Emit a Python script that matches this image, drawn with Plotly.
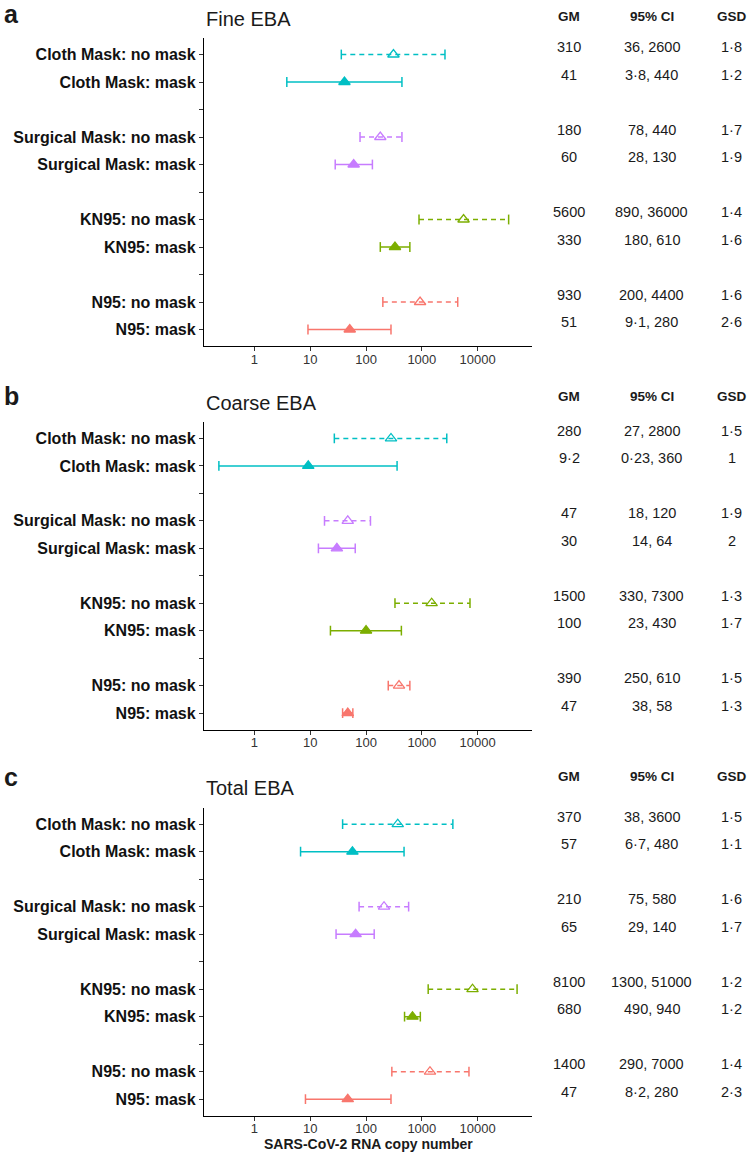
import plotly.graph_objects as go

# ---------------- data ----------------
categories = ["Cloth Mask: no mask", "Cloth Mask: mask", "",
              "Surgical Mask: no mask", "Surgical Mask: mask", " ",
              "KN95: no mask", "KN95: mask", "  ",
              "N95: no mask", "N95: mask"]
rows = ["Cloth Mask: no mask", "Cloth Mask: mask",
        "Surgical Mask: no mask", "Surgical Mask: mask",
        "KN95: no mask", "KN95: mask",
        "N95: no mask", "N95: mask"]
masked = [False, True, False, True, False, True, False, True]
groups = ["Cloth", "Cloth", "Surgical", "Surgical", "KN95", "KN95", "N95", "N95"]

panel_titles = ["Fine EBA", "Coarse EBA", "Total EBA"]
panel_letters = ["a", "b", "c"]

fine_gm = [310, 41, 180, 60, 5600, 330, 930, 51]
fine_lo = [36, 3.8, 78, 28, 890, 180, 200, 9.1]
fine_hi = [2600, 440, 440, 130, 36000, 610, 4400, 280]
fine_gsd = [1.8, 1.2, 1.7, 1.9, 1.4, 1.6, 1.6, 2.6]

coarse_gm = [280, 9.2, 47, 30, 1500, 100, 390, 47]
coarse_lo = [27, 0.23, 18, 14, 330, 23, 250, 38]
coarse_hi = [2800, 360, 120, 64, 7300, 430, 610, 58]
coarse_gsd = [1.5, 1, 1.9, 2, 1.3, 1.7, 1.5, 1.3]

total_gm = [370, 57, 210, 65, 8100, 680, 1400, 47]
total_lo = [38, 6.7, 75, 29, 1300, 490, 290, 8.2]
total_hi = [3600, 480, 580, 140, 51000, 940, 7000, 280]
total_gsd = [1.5, 1.1, 1.6, 1.7, 1.2, 1.2, 1.4, 2.3]

x_tickvals = [1, 10, 100, 1000, 10000]
x_ticktext = ["1", "10", "100", "1000", "10000"]
table_headers = ["GM", "95% CI", "GSD"]
x_title = "SARS-CoV-2 RNA copy number"

# ---------------- styling ----------------
colors = {"Cloth": "#00BFC4", "Surgical": "#C77CFF", "KN95": "#7CAE00", "N95": "#F8766D"}
FONT = "Liberation Sans, Arial, sans-serif"
W, H = 750, 1153
panels_px = [(38, 346), (422, 729.5), (807.7, 1115.7)]   # top, bottom of each plot area
title_px = [19, 403, 788]
header_px = [17, 396.7, 776.7]
letter_px = [14, 396, 777]
x_left, x_right = 204, 532
col_x = [569, 651.7, 731.7]


def fmt(v):
    return f"{v:g}".replace(".", "\u00b7")


data = [
    (fine_gm, fine_lo, fine_hi, fine_gsd),
    (coarse_gm, coarse_lo, coarse_hi, coarse_gsd),
    (total_gm, total_lo, total_hi, total_gsd),
]

fig = go.Figure()
annotations = []
pos = [categories.index(r) + 1 for r in rows]

for p, (gm, lo, hi, gsd) in enumerate(data):
    k = "" if p == 0 else str(p + 1)
    xa, ya = "x" + k, "y" + k
    for i in range(len(rows)):
        c = colors[groups[i]]
        dash = "solid" if masked[i] else "5px,4px"
        fig.add_trace(go.Scatter(
            x=[lo[i], hi[i]], y=[pos[i], pos[i]], mode="lines",
            line=dict(color=c, width=1.5, dash=dash),
            xaxis=xa, yaxis=ya, showlegend=False, hoverinfo="skip"))
        fig.add_trace(go.Scatter(
            x=[lo[i], hi[i]], y=[pos[i], pos[i]], mode="markers",
            marker=dict(symbol="line-ns", size=7, color=c, line=dict(color=c, width=1.5)),
            xaxis=xa, yaxis=ya, showlegend=False, hoverinfo="skip"))
        fig.add_trace(go.Scatter(
            x=[gm[i]], y=[pos[i]], mode="markers",
            marker=dict(symbol="triangle-up" if masked[i] else "triangle-up-open",
                        size=10, color=c, line=dict(color=c, width=1.3)),
            xaxis=xa, yaxis=ya, showlegend=False))
        # table text
        for j, txt in enumerate([fmt(gm[i]), f"{fmt(lo[i])}, {fmt(hi[i])}", fmt(gsd[i])]):
            annotations.append(dict(
                text=txt, xref="paper", x=col_x[j] / W, xanchor="center",
                yref=ya, y=pos[i], yanchor="middle", yshift=7.5, showarrow=False,
                font=dict(family=FONT, size=14.5, color="#1a1a1a")))
    # headers
    for j, h in enumerate(table_headers):
        annotations.append(dict(
            text=f"<b>{h}</b>", xref="paper", x=col_x[j] / W, xanchor="center",
            yref="paper", y=1 - header_px[p] / H, yanchor="middle", showarrow=False,
            font=dict(family=FONT, size=13.5, color="#1a1a1a")))
    # panel title
    annotations.append(dict(
        text=panel_titles[p], xref="paper", x=x_left / W, xanchor="left",
        yref="paper", y=1 - title_px[p] / H, yanchor="middle", showarrow=False,
        font=dict(family=FONT, size=20, color="#1a1a1a")))
    # panel letter
    annotations.append(dict(
        text=f"<b>{panel_letters[p]}</b>", xref="paper", x=2 / W, xanchor="left",
        yref="paper", y=1 - letter_px[p] / H, yanchor="middle", showarrow=False,
        font=dict(family=FONT, size=25, color="#1a1a1a")))

    top, bot = panels_px[p]
    fig.update_layout(**{
        ("xaxis" + k): dict(
            type="log", range=[-0.905, 4.975], domain=[x_left / W, x_right / W],
            anchor=ya, tickvals=x_tickvals, ticktext=x_ticktext,
            showgrid=False, zeroline=False, showline=True, linecolor="black", linewidth=1.3,
            ticks="outside", ticklen=4, tickwidth=1.1, tickcolor="#333333",
            ticklabelstandoff=-3,
            tickfont=dict(family=FONT, size=13, color="#333333")),
        ("yaxis" + k): dict(
            range=[11.6, 0.4], domain=[1 - bot / H, 1 - top / H], anchor=xa,
            tickvals=list(range(1, len(categories) + 1)), ticktext=categories,
            showgrid=False, zeroline=False, showline=True, linecolor="black", linewidth=1.3,
            ticks="outside", ticklen=4, tickwidth=1.1, tickcolor="#333333",
            tickfont=dict(family=FONT, size=16, color="#111111", weight="bold")),
    })

annotations.append(dict(
    text=f"<b>{x_title}</b>", xref="x3 domain", x=0.5, xanchor="center",
    yref="paper", y=1 - 1144 / H, yanchor="middle", showarrow=False,
    font=dict(family=FONT, size=14, color="#1a1a1a")))

fig.update_layout(
    width=W, height=H, margin=dict(l=0, r=0, t=0, b=0),
    paper_bgcolor="white", plot_bgcolor="white",
    annotations=annotations, showlegend=False,
)

fig.write_html(
    "out.html",
    config={"displayModeBar": False},
    post_script="document.body.style.margin='0';document.body.style.overflow='hidden';",
)
